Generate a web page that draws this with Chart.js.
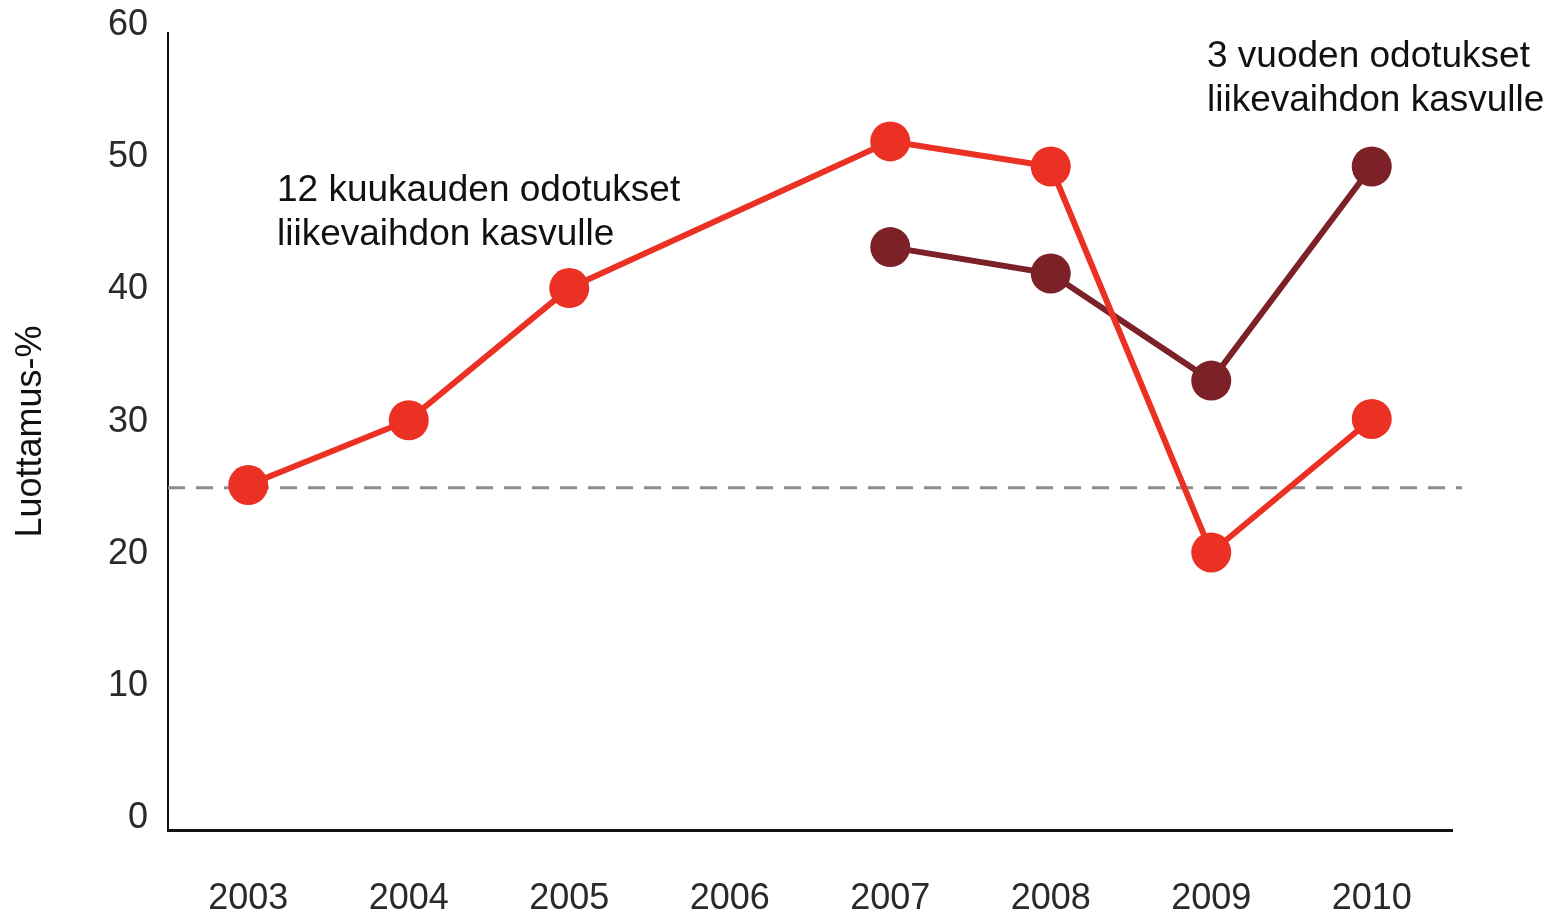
<!DOCTYPE html>
<html>
<head>
<meta charset="utf-8">
<script src="https://cdn.jsdelivr.net/npm/chart.js@4.4.1/dist/chart.umd.min.js"></script>
<style>
  html, body { margin: 0; padding: 0; background: #fff; }
  #wrap { width: 1550px; height: 918px; position: relative; }
</style>
</head>
<body>
<div id="wrap"><canvas id="chart"></canvas></div>
<script>
// data
const years = ['2003', '2004', '2005', '2006', '2007', '2008', '2009', '2010'];
const shortTerm = [25.2, 30.1, 40.1, null, 51.2, 49.3, 20.1, 30.2];   // 12 kk odotukset
const longTerm = [null, null, null, null, 43.2, 41.2, 33.1, 49.3];    // 3 v odotukset
const yTicks = [0, 10, 20, 30, 40, 50, 60];
const refLevel = 25;

const red = '#ea3124';
const dark = '#7b2127';
const fam = 'Arial, "Liberation Sans", Helvetica, sans-serif';

// dashed reference line + the two text notes
const extras = {
    id: 'extras',
    beforeDatasetsDraw(chart) {
        const ctx = chart.ctx;
        const y = chart.scales.y.getPixelForValue(refLevel);
        ctx.save();
        ctx.strokeStyle = '#8c8c8c';
        ctx.lineWidth = 3;
        ctx.setLineDash([17, 11]);
        ctx.beginPath();
        ctx.moveTo(chart.chartArea.left, y);
        ctx.lineTo(chart.chartArea.right + 10, y);
        ctx.stroke();
        ctx.restore();
    },
    afterDraw(chart) {
        const ctx = chart.ctx;
        ctx.save();
        ctx.fillStyle = '#111';
        ctx.font = '37px ' + fam;
        ctx.textBaseline = 'middle';
        ctx.textAlign = 'left';
        ctx.fillText('12 kuukauden odotukset', 277, 191);
        ctx.fillText('liikevaihdon kasvulle', 277, 235);
        ctx.fillText('3 vuoden odotukset', 1207, 57);
        ctx.fillText('liikevaihdon kasvulle', 1207, 101);
        ctx.restore();
    }
};

const tickFont = { family: fam, size: 36 };

new Chart(document.getElementById('chart'), {
    type: 'line',
    plugins: [extras],
    data: {
        labels: years,
        datasets: [{
            label: '12 kuukauden odotukset liikevaihdon kasvulle',
            data: shortTerm,
            borderColor: red,
            backgroundColor: red,
            borderWidth: 6,
            pointRadius: 20,
            pointHoverRadius: 20,
            pointBorderWidth: 0,
            spanGaps: true,
            tension: 0
        }, {
            label: '3 vuoden odotukset liikevaihdon kasvulle',
            data: longTerm,
            borderColor: dark,
            backgroundColor: dark,
            borderWidth: 6,
            pointRadius: 20,
            pointHoverRadius: 20,
            pointBorderWidth: 0,
            tension: 0
        }]
    },
    options: {
        responsive: true,
        maintainAspectRatio: false,
        animation: false,
        layout: { padding: { left: 0, right: 98, top: 33, bottom: 0 } },
        plugins: {
            legend: { display: false },
            tooltip: { enabled: false }
        },
        scales: {
            x: {
                offset: true,
                grid: { display: false, drawTicks: false },
                border: { display: true, color: '#111', width: 3 },
                ticks: { color: '#2a2a2a', font: tickFont, padding: 47, maxRotation: 0 },
                afterFit: (s) => { s.height = 88; s.paddingLeft = 0; s.paddingRight = 0; }
            },
            y: {
                min: -0.9,
                max: 59.4,
                grid: { display: false, drawTicks: false },
                border: { display: true, color: '#111', width: 2 },
                ticks: { color: '#2a2a2a', font: tickFont, padding: 20 },
                afterBuildTicks: (s) => { s.ticks = yTicks.map(v => ({ value: v })); },
                title: {
                    display: true,
                    text: 'Luottamus-%',
                    color: '#111',
                    font: { family: fam, size: 36 },
                    padding: { top: 9, bottom: 0 }
                },
                afterFit: (s) => { s.width = 168; s.paddingTop = 0; s.paddingBottom = 0; }
            }
        }
    }
});
</script>
</body>
</html>
